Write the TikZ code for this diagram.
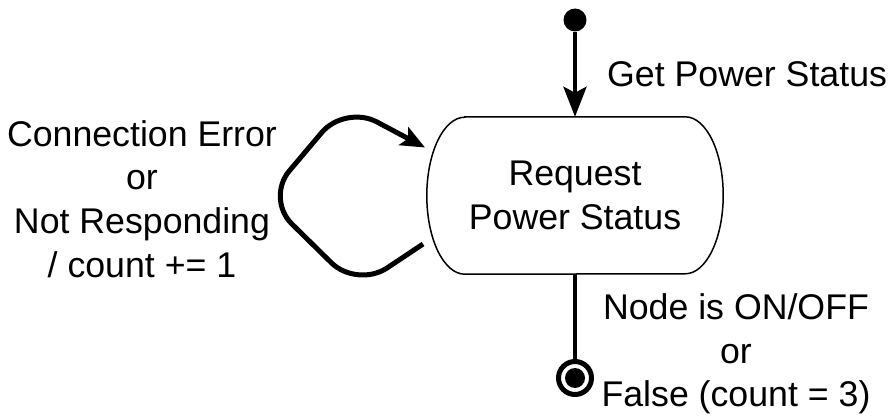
\documentclass[tikz,border=0pt]{standalone}
\usepackage{fontspec}
\setmainfont{Liberation Sans}
\usetikzlibrary{arrows.meta,calc}

\tikzset{
  lbl/.style={inner sep=0pt, align=center, font=\fontsize{35.7}{43.7}\selectfont},
  flow/.style={line width=4.5pt, -{Stealth[length=30pt,width=23pt,inset=6pt]}},
  loopline/.style={line width=5pt, rounded corners=36pt, -{Stealth[length=24pt,width=20pt,inset=5pt]}},
  startdot/.style={circle, fill=black, minimum size=23pt, inner sep=0pt},
  enddot/.style={circle, draw=black, line width=5pt, minimum size=33pt, inner sep=0pt,
    path picture={\fill (path picture bounding box.center) circle (10pt);}},
  statebox/.style={minimum width=296pt, minimum height=157pt, inner sep=0pt}
}

\begin{document}
\begin{tikzpicture}[x=1pt,y=1pt]
  \useasboundingbox (0,0) rectangle (889,416);

  % initial and final pseudo-states
  \node[startdot] (init) at (575,396) {};
  \node[enddot]   (final) at (575,38) {};

  % the state, its outline drawn with elliptic ends
  \node[statebox, lbl] (req) at (575,220.5) {Request\\Power Status};
  \draw[line width=1.5pt]
    ($(req.north west)+(38,0)$) -- ($(req.north east)+(-38,0)$)
    arc[start angle=90, end angle=-90, x radius=38, y radius=78.5]
    -- ($(req.south west)+(38,0)$)
    arc[start angle=270, end angle=90, x radius=38, y radius=78.5] -- cycle;

  % transitions
  \draw[flow] (init) -- (req.north);
  \draw[line width=4.5pt] (req.south) -- (final);

  \coordinate (loopstart) at (423,172);
  \coordinate (looptip) at (425,268.5);
  \draw[loopline] (loopstart) -- (357,128) -- (266,217.5) -- (345,311) -- (looptip);

  % transition labels
  \node[lbl, anchor=base west] (getlbl) at (607,329) {Get Power Status};
  \node[lbl] (errlbl) at (142,217) {Connection Error\\or\\Not Responding\\/ count += 1};
  \node[lbl] (donelbl) at (736,62) {Node is ON/OFF\\or\\False (count = 3)};
\end{tikzpicture}
\end{document}
